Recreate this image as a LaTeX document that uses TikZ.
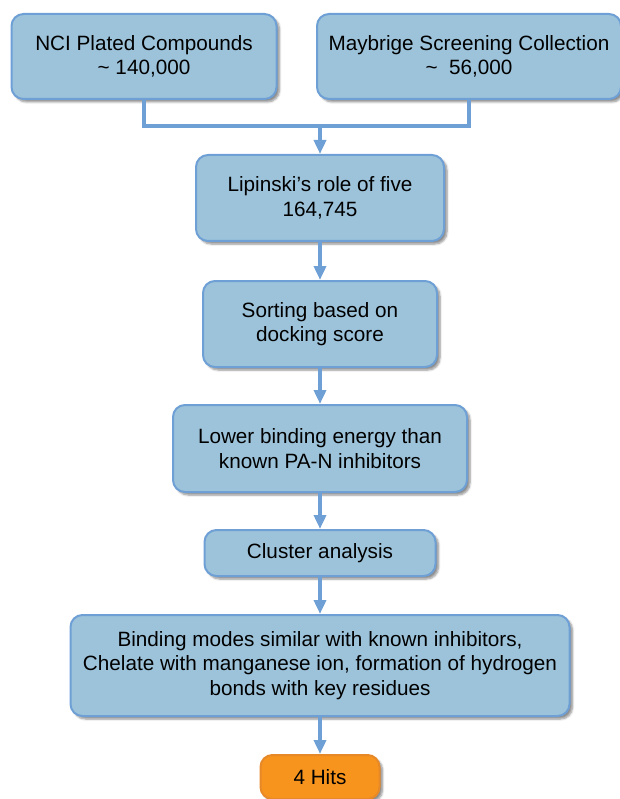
\documentclass[tikz,border=0pt]{standalone}
\usepackage{fontspec}
\setmainfont{Liberation Sans}
\usetikzlibrary{arrows.meta, shadows.blur}

\definecolor{boxfill}{RGB}{157,195,218}
\definecolor{boxline}{RGB}{110,160,214}
\definecolor{hitfill}{RGB}{247,148,30}
\definecolor{hitline}{RGB}{232,137,40}

\tikzset{
	stage/.style = {draw = boxline, fill = boxfill, line width = 2pt, rounded corners = 12pt, align = center, inner sep = 0pt,
		font = \fontsize{20.7}{24.5}\selectfont,
		blur shadow = {shadow xshift = 3pt, shadow yshift = -3pt, shadow blur steps = 6, shadow opacity = 45}},
	hits/.style = {stage, draw = hitline, fill = hitfill},
	link/.style = {draw = boxline, line width = 4pt},
	flow/.style = {link, -{Triangle[width = 12pt, length = 14pt]}}
}

\begin{document}
\begin{tikzpicture}[x = 1pt, y = -1pt]

\useasboundingbox (0, 0) rectangle (619, 799);

% the two libraries
\node[stage, minimum width = 265pt, minimum height = 85pt] (NCI) at (144, 56.5) {NCI Plated Compounds\\\textasciitilde{} 140,000};
\node[stage, minimum width = 304pt, minimum height = 85pt] (MSC) at (469, 56.5) {Maybrige Screening Collection\\\textasciitilde{}\ \ 56,000};

% filtering steps
\node[stage, minimum width = 248pt, minimum height = 86pt] (LRF) at (320, 198) {Lipinski’s role of five\\164,745};
\node[stage, minimum width = 234pt, minimum height = 86pt] (SDS) at (320, 324) {Sorting based on\\docking score};
\node[stage, minimum width = 294pt, minimum height = 87pt] (LBE) at (320, 448.5) {Lower binding energy than\\known PA-N inhibitors};
\node[stage, minimum width = 231pt, minimum height = 46pt] (CLA) at (320, 553) {Cluster analysis};
\node[stage, minimum width = 499pt, minimum height = 101pt] (BMS) at (320, 665.5) {Binding modes similar with known inhibitors,\\Chelate with manganese ion, formation of hydrogen\\bonds with key residues};
\node[hits, minimum width = 119pt, minimum height = 44pt] (HIT) at (320, 777) {4 Hits};

\coordinate (merge) at (320, 126);

\draw[link] (NCI.south) |- (merge) -| (MSC.south);
\draw[flow] (merge) -- (LRF.north);

\foreach \a/\b in {LRF/SDS, SDS/LBE, LBE/CLA, CLA/BMS, BMS/HIT}
	\draw[flow] (\a) -- (\b);

\end{tikzpicture}
\end{document}
